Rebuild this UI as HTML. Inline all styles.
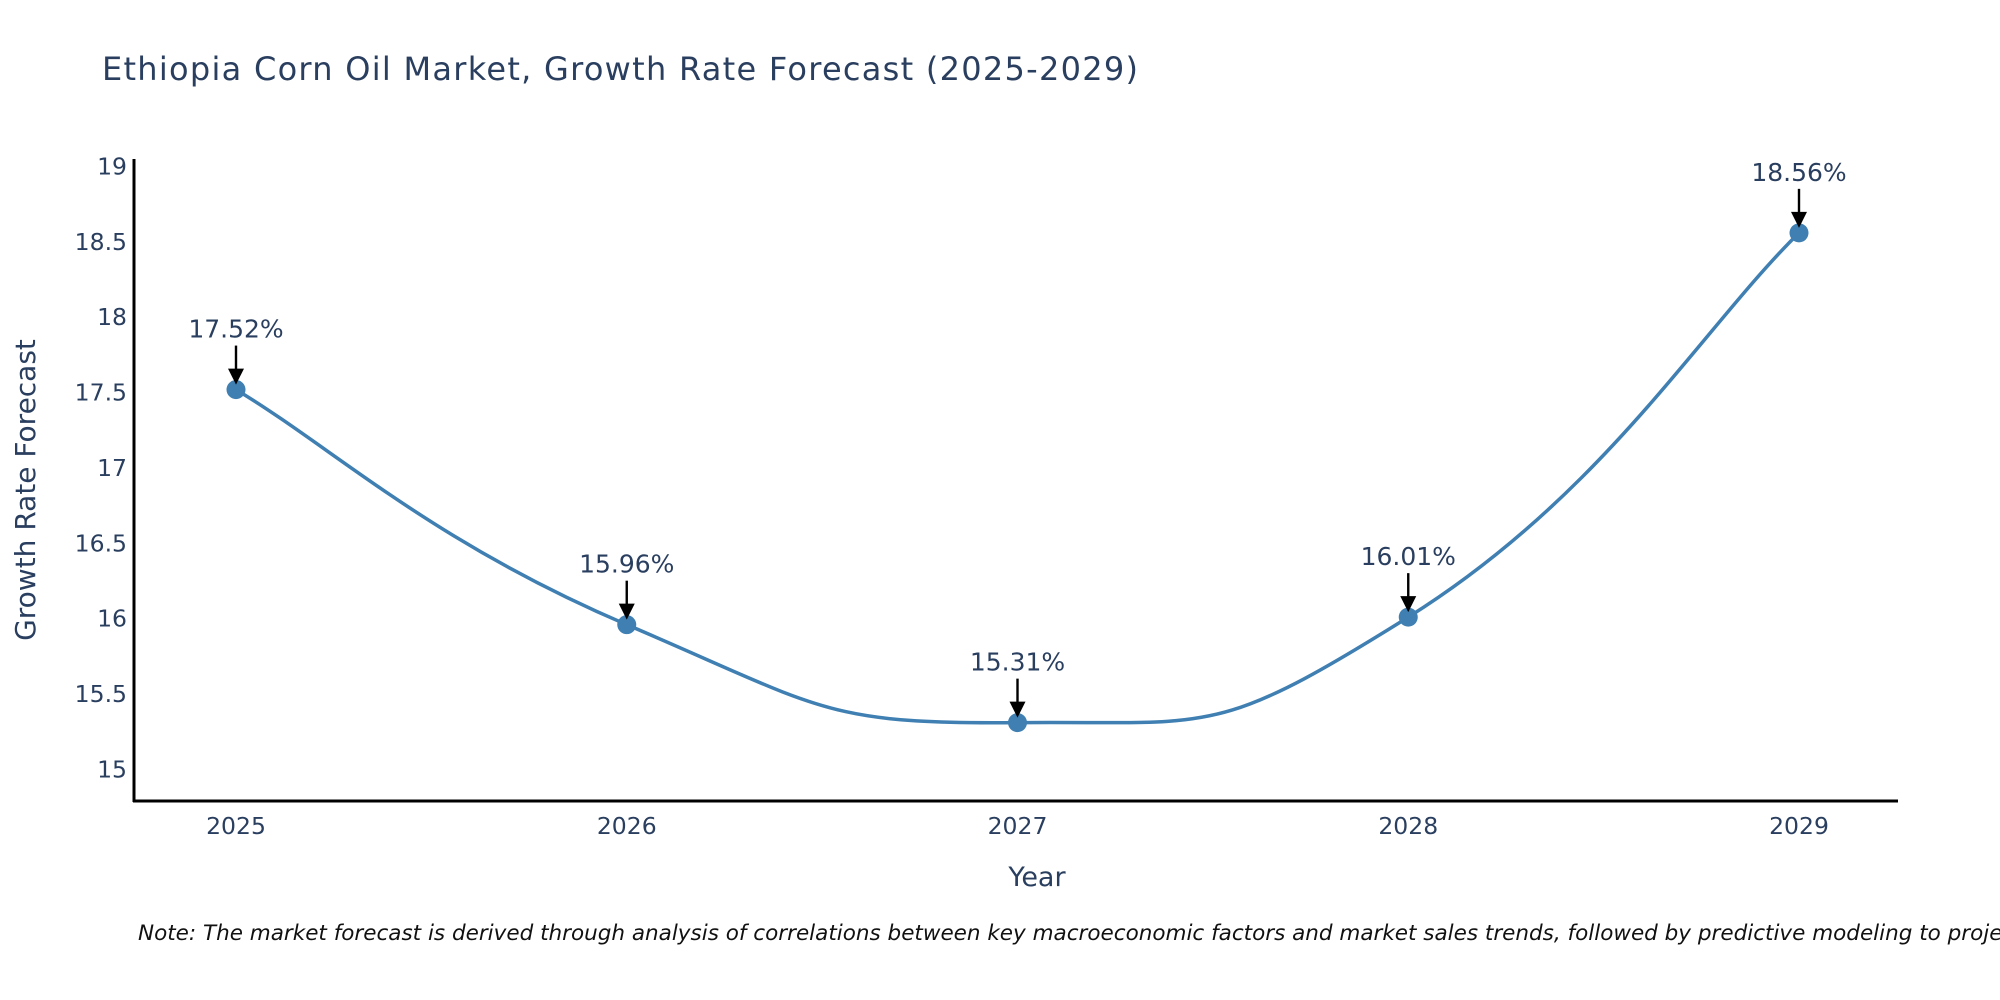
<!DOCTYPE html>
<html><head><meta charset="utf-8"><style>
html,body{margin:0;padding:0;background:#fff;width:2000px;height:1000px;overflow:hidden}
svg{display:block;font-family:"DejaVu Sans","Liberation Sans",sans-serif}
</style></head><body>
<svg id="chart" width="2000" height="1000" viewBox="0 0 2000 1000">
<text x="102" y="80" font-size="32" fill="#2a3f5f" textLength="1036">Ethiopia Corn Oil Market, Growth Rate Forecast (2025-2029)</text>
<g id="plot"></g>
<text x="1037" y="886" font-size="27" fill="#2a3f5f" text-anchor="middle">Year</text>
<text transform="translate(35,490) rotate(-90)" font-size="28" fill="#2a3f5f" text-anchor="middle">Growth Rate Forecast</text>
<text x="138" y="940" font-size="21.5" font-style="italic" fill="#111">Note: The market forecast is derived through analysis of correlations between key macroeconomic factors and market sales trends, followed by predictive modeling to project future sales</text>
</svg>
<script>
const years = [2025, 2026, 2027, 2028, 2029];
const growth = [17.52, 15.96, 15.31, 16.01, 18.56];
const yTicks = [15, 15.5, 16, 16.5, 17, 17.5, 18, 18.5, 19];
const labels = ["17.52%", "15.96%", "15.31%", "16.01%", "18.56%"];

const NS = "http://www.w3.org/2000/svg";
const g = document.getElementById("plot");
const X0 = 134, X1 = 1898, Y0 = 159, Y1 = 801;
const yMin = 14.79, yMax = 19.05;
const xs = v => 236 + (v - years[0]) * (1799 - 236) / (years[years.length - 1] - years[0]);
const ys = v => Y1 - (v - yMin) / (yMax - yMin) * (Y1 - Y0);
function mk(tag, attrs) { const e = document.createElementNS(NS, tag); for (const k in attrs) e.setAttribute(k, attrs[k]); g.appendChild(e); return e; }

yTicks.forEach(t => {
  const e = mk("text", {x: 127, y: ys(t) + 8, "font-size": 23.5, fill: "#2a3f5f", "text-anchor": "end"});
  e.textContent = String(t);
  
  
});
years.forEach(yr => {
  const e = mk("text", {x: xs(yr), y: 834, "font-size": 23.5, fill: "#2a3f5f", "text-anchor": "middle"});
  e.textContent = String(yr);
  
  
});
const ya = mk("line", {x1: X0, y1: Y0, x2: X0, y2: Y1 + 1, stroke: "#000", "stroke-width": 3});


const xa = mk("line", {x1: X0 - 1, y1: Y1, x2: X1, y2: Y1, stroke: "#000", "stroke-width": 3});



const pts = years.map((yr, i) => [xs(yr), ys(growth[i])]);
let d = "M" + pts[0][0] + "," + pts[0][1];
const s = 0.25;
for (let i = 0; i < pts.length - 1; i++) {
  const p0 = pts[Math.max(0, i - 1)], p1 = pts[i], p2 = pts[i + 1], p3 = pts[Math.min(pts.length - 1, i + 2)];
  const c1 = [p1[0] + (p2[0] - p0[0]) * s, p1[1] + (p2[1] - p0[1]) * s];
  const c2 = [p2[0] - (p3[0] - p1[0]) * s, p2[1] - (p3[1] - p1[1]) * s];
  d += " C" + c1 + " " + c2 + " " + p2;
}
const line = mk("path", {d: d, fill: "none", stroke: "#3f7fb2", "stroke-width": 3.5});



pts.forEach((p, i) => {
  const c = mk("circle", {cx: p[0], cy: p[1], r: 9.5, fill: "#3f7fb2"});
  
  
  const a = mk("line", {x1: p[0], y1: p[1] - 44, x2: p[0], y2: p[1] - 18, stroke: "#000", "stroke-width": 2.4});
  
  
  const h = mk("polygon", {points: (p[0] - 8) + "," + (p[1] - 21) + " " + (p[0] + 8) + "," + (p[1] - 21) + " " + p[0] + "," + (p[1] - 5), fill: "#000"});
  
  
  const t = mk("text", {x: p[0], y: p[1] - 52, "font-size": 25, fill: "#2a3f5f", "text-anchor": "middle"});
  t.textContent = labels[i];
  
  
});
</script>
</body></html>
